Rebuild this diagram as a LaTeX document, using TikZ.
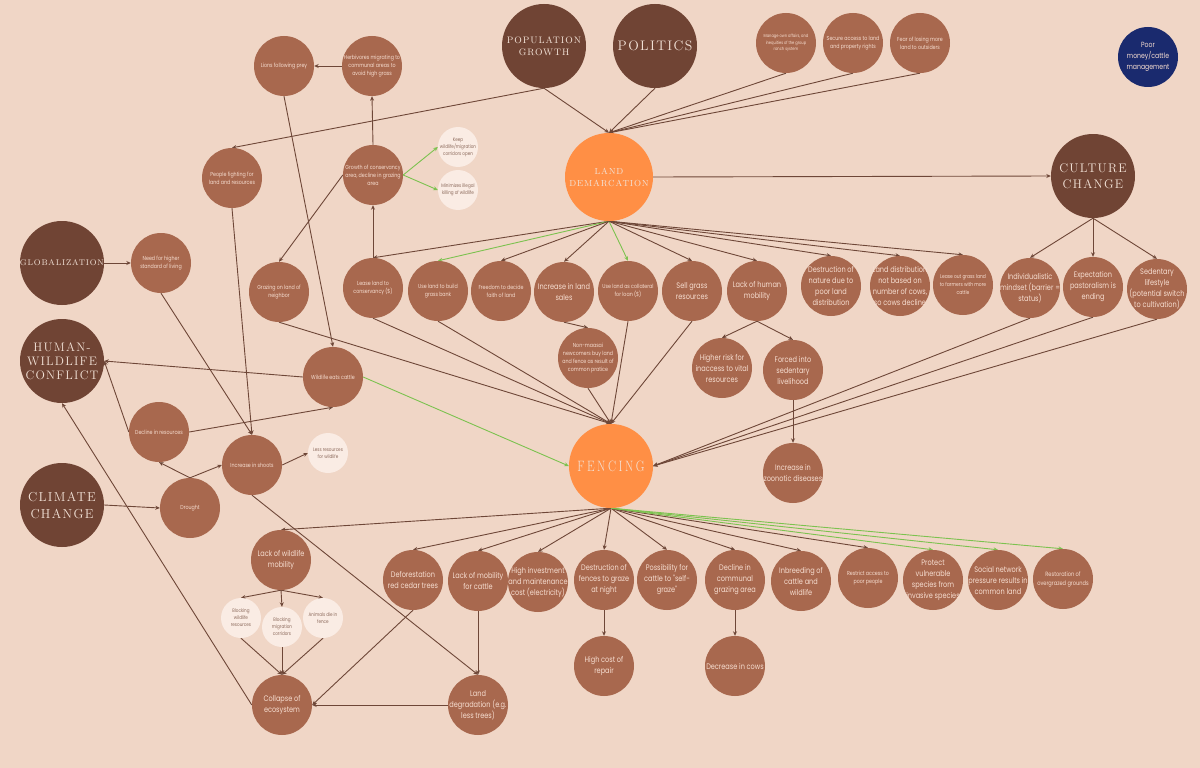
\documentclass[tikz,border=0pt]{standalone}
\usepackage{fontspec}
\newfontfamily\bodyfont[FakeStretch=0.82]{Poppins}
\newfontfamily\titlefont[LetterSpace=10]{Latin Modern Roman}
\newfontfamily\fencefont[LetterSpace=17,FakeStretch=0.8]{Latin Modern Roman}
\usetikzlibrary{arrows.meta,backgrounds}
\definecolor{bgc}{HTML}{F0D6C6}
\definecolor{midbrown}{HTML}{A8684E}
\definecolor{darkbrown}{HTML}{704434}
\definecolor{orangec}{HTML}{FF8F45}
\definecolor{creamc}{HTML}{FAECE4}
\definecolor{navyc}{HTML}{1A2A6E}
\definecolor{lighttext}{HTML}{F6DDD0}
\definecolor{creamtext}{HTML}{8C6A5C}
\definecolor{titletext}{HTML}{F3E3D8}
\definecolor{edgec}{HTML}{6E4738}
\definecolor{greenc}{HTML}{7CC24F}
\newcommand\mySmallF{\bodyfont\fontsize{5.8}{8}\selectfont}
\newcommand\myTinyF{\bodyfont\fontsize{4.4}{6.6}\selectfont}
\newcommand\myLargeF{\bodyfont\fontsize{8}{11}\selectfont}
\newcommand\myCreamF{\bodyfont\fontsize{5}{7}\selectfont}
\newcommand\myTitle[2]{\titlefont\fontsize{#1}{#2}\selectfont}
\tikzset{
  brn/.style={circle, fill=midbrown, minimum size=60pt, inner sep=-20pt, align=center, text=lighttext, font=\mySmallF},
  brnL/.style={brn, font=\myLargeF},
  crm/.style={circle, fill=creamc, minimum size=40pt, inner sep=-20pt, align=center, text=creamtext, font=\myCreamF},
  ttl/.style={circle, fill=darkbrown, minimum size=84pt, inner sep=-20pt, align=center, text=titletext},
  org/.style={ttl, fill=orangec},
  ed/.style={draw=edgec, line width=0.9pt, -{Stealth[length=4.5pt,width=4pt]}},
  eg/.style={ed, draw=greenc}
}
\begin{document}
\begin{tikzpicture}[x=1pt,y=-1pt]
\useasboundingbox (0,0) rectangle (1200,768);
% top
\node[ttl, font=\myTitle{9.4}{12}] (pop) at (544,46) {POPULATION\\GROWTH};
\node[ttl, font=\myTitle{13.8}{16}] (pol) at (655,46) {POLITICS};
\node[brn, font=\myTinyF] (manage) at (786,43) {Manage own affairs, and\\inequities of the group\\ranch system};
\node[brn] (secure) at (853,43) {Secure access to land\\and property rights};
\node[brn] (fear) at (920,43) {Fear of losing more\\land to outsiders};
\node[brnL, fill=navyc, font=\bodyfont\fontsize{7.5}{11}\selectfont] (poor) at (1148,57) {Poor\\money/cattle\\management};
\node[brn] (lions) at (284,66) {Lions following prey};
\node[brn] (herb) at (372,66) {Herbivores migrating to\\communal areas to\\avoid high grass};
\node[brn] (people) at (232,178) {People fighting for\\land and resources};
\node[brn] (growth) at (373,175) {Growth of conservancy\\area, decline in grazing\\area};
\node[crm] (keep) at (458,147) {Keep\\wildlife/migration\\corridors open};
\node[crm] (minim) at (458,190) {Minimizes illegal\\killing of wildlife};
\node[org, minimum size=88pt, font=\myTitle{8.8}{12}] (ld) at (609,177) {LAND\\DEMARCATION};
\node[ttl, font=\myTitle{12.5}{16}] (cc) at (1093,176) {CULTURE\\CHANGE};
% row 2
\node[ttl, font=\myTitle{8.2}{10}] (glob) at (62,263) {GLOBALIZATION};
\node[brn] (need) at (161,263) {Need for higher\\standard of living};
\node[brn] (grazing) at (279,292) {Grazing on land of\\neighbor};
\node[brn] (lease) at (373,288) {Lease land to\\conservancy (\$)};
\node[brn] (bank) at (438,291) {Use land to build\\grass bank};
\node[brn] (freedom) at (501,291) {Freedom to decide\\faith of land};
\node[brnL] (sales) at (564,292) {Increase in land\\sales};
\node[brn] (collat) at (628,291) {Use land as collateral\\for loan (\$)};
\node[brnL] (sell) at (692,291) {Sell grass\\resources};
\node[brnL] (lhm) at (757,291) {Lack of human\\mobility};
\node[brnL] (destn) at (831,286) {Destruction of\\nature due to\\poor land\\distribution};
\node[brnL] (landdist) at (900,286) {Land distribution\\not based on\\number of cows,\\so cows decline};
\node[brn, font=\bodyfont\fontsize{5.4}{8}\selectfont] (leaseout) at (963,285) {Lease out grass land\\to farmers with more\\cattle};
\node[brnL] (indiv) at (1030,288) {Individualistic\\mindset (barrier =\\status)};
\node[brnL] (expect) at (1093,287) {Expectation\\pastoralism is\\ending};
\node[brnL] (sedent) at (1157,289) {Sedentary\\lifestyle\\(potential switch\\to cultivation)};
\node[brn] (nonm) at (588,358) {Non-maasai\\newcomers buy land\\and fence as result of\\common pratice};
\node[brnL] (higher) at (722,368) {Higher risk for\\inaccess to vital\\resources};
\node[brnL] (forced) at (793,370) {Forced into\\sedentary\\livelihood};
\node[brnL] (zoon) at (793,473) {Increase in\\zoonotic diseases};
% left middle
\node[ttl, font=\myTitle{12.3}{14}] (hwc) at (62,361) {HUMAN-\\WILDLIFE\\CONFLICT};
\node[brn] (wec) at (333,377) {Wildlife eats cattle};
\node[brn] (decl) at (159,432) {Decline in resources};
\node[brn] (shoots) at (252,465) {Increase in shoots};
\node[crm] (less) at (328,453) {Less resources\\for wildlife};
\node[ttl, font=\myTitle{13}{17}] (clim) at (62,505) {CLIMATE\\CHANGE};
\node[brn] (drought) at (190,508) {Drought};
\node[org, font=\fencefont\fontsize{15}{16}\selectfont] (fence) at (611,466) {FENCING};
% bottom
\node[brnL] (lwm) at (281,560) {Lack of wildlife\\mobility};
\node[crm] (bwr) at (241,618) {Blocking\\wildlife\\resources};
\node[crm] (bmc) at (282,627) {Blocking\\migration\\corridors};
\node[crm] (adf) at (323,618) {Animals die in\\fence};
\node[brnL] (coll) at (282,705) {Collapse of\\ecosystem};
\node[brnL] (defor) at (413,580) {Deforestation\\red cedar trees};
\node[brnL] (lmc) at (478,581) {Lack of mobility\\for cattle};
\node[brnL] (landdeg) at (478,705) {Land\\degradation (e.g.\\less trees)};
\node[brnL] (hinv) at (538,582) {High investment\\and maintenance\\cost (electricity)};
\node[brnL] (destf) at (604,580) {Destruction of\\fences to graze\\at night};
\node[brnL] (selfg) at (667,580) {Possibility for\\cattle to "self-\\graze"};
\node[brnL] (declc) at (735,580) {Decline in\\communal\\grazing area};
\node[brnL] (inbr) at (801,581) {Inbreeding of\\cattle and\\wildlife};
\node[brnL] (repair) at (604,666) {High cost of\\repair};
\node[brnL] (cows) at (735,666) {Decrease in cows};
\node[brn] (restrict) at (868,578) {Restrict access to\\poor people};
\node[brnL] (protect) at (933,580) {Protect\\vulnerable\\species from\\invasive species};
\node[brnL] (social) at (998,580) {Social network\\pressure results in\\common land};
\node[brn, font=\bodyfont\fontsize{6.2}{9}\selectfont] (restor) at (1063,579) {Restoration of\\overgrazed grounds};

\begin{pgfonlayer}{background}
\fill[bgc] (0,0) rectangle (1200,768);
% top cluster
\draw[ed] (herb.west) -- (lions.east);
\draw[ed] (growth.north) -- (herb.south);
\draw[eg] (growth.east) -- (keep.west);
\draw[eg] (growth.east) -- (minim.west);
\draw[ed] (lease.north) -- (growth.south);
\draw[ed] (growth.west) -- (grazing.north);
\draw[ed] (lions.south) -- (wec.north);
\draw[ed] (people.south) -- (shoots.north);
\draw[ed] (pop.south) -- (people.north);
\draw[ed] (pop.south) -- (ld.north);
\draw[ed] (pol.south) -- (ld.north);
\draw[ed] (manage.south) -- (ld.north);
\draw[ed] (secure.south) -- (ld.north);
\draw[ed] (fear.south) -- (ld.north);
\draw[ed] (ld.east) -- (cc.west);
\draw[ed] (cc.south) -- (indiv.north);
\draw[ed] (cc.south) -- (expect.north);
\draw[ed] (cc.south) -- (sedent.north);
% land demarcation children
\draw[ed] (ld.south) -- (lease.north);
\draw[eg] (ld.south) -- (bank.north);
\draw[ed] (ld.south) -- (freedom.north);
\draw[ed] (ld.south) -- (sales.north);
\draw[eg] (ld.south) -- (collat.north);
\draw[ed] (ld.south) -- (sell.north);
\draw[ed] (ld.south) -- (lhm.north);
\draw[ed] (ld.south) -- (destn.north);
\draw[ed] (ld.south) -- (landdist.north);
\draw[ed] (ld.south) -- (leaseout.north);
\draw[ed] (sales.south) -- (nonm.north);
\draw[ed] (lhm.south) -- (higher.north);
\draw[ed] (lhm.south) -- (forced.north);
\draw[ed] (forced.south) -- (zoon.north);
% into fencing
\draw[ed] (grazing.south) -- (fence.north);
\draw[ed] (lease.south) -- (fence.north);
\draw[ed] (bank.south) -- (fence.north);
\draw[ed] (nonm.south) -- (fence.north);
\draw[ed] (collat.south) -- (fence.north);
\draw[ed] (sell.south) -- (fence.north);
\draw[ed] (indiv.south) -- (fence.east);
\draw[ed] (expect.south) -- (fence.east);
\draw[ed] (sedent.south) -- (fence.east);
\draw[eg] (wec.east) -- (fence.west);
% fencing children
\draw[ed] (fence.south) -- (lwm.north);
\draw[ed] (fence.south) -- (defor.north);
\draw[ed] (fence.south) -- (lmc.north);
\draw[ed] (fence.south) -- (hinv.north);
\draw[ed] (fence.south) -- (destf.north);
\draw[ed] (fence.south) -- (selfg.north);
\draw[ed] (fence.south) -- (declc.north);
\draw[ed] (fence.south) -- (inbr.north);
\draw[ed] (fence.south) -- (restrict.north);
\draw[eg] (fence.south) -- (protect.north);
\draw[eg] (fence.south) -- (social.north);
\draw[eg] (fence.south) -- (restor.north);
\draw[ed] (destf.south) -- (repair.north);
\draw[ed] (declc.south) -- (cows.north);
% bottom left
\draw[ed] (lwm.south) -- (bwr.north);
\draw[ed] (lwm.south) -- (bmc.north);
\draw[ed] (lwm.south) -- (adf.north);
\draw[ed] (bwr.south) -- (coll.north);
\draw[ed] (bmc.south) -- (coll.north);
\draw[ed] (adf.south) -- (coll.north);
\draw[ed] (defor.south) -- (coll.east);
\draw[ed] (landdeg.west) -- (coll.east);
\draw[ed] (lmc.south) -- (landdeg.north);
\draw[ed] (shoots.south) -- (landdeg.north);
\draw[ed] (coll.west) -- (hwc.south);
% left middle
\draw[ed] (wec.west) -- (hwc.east);
\draw[ed] (decl.west) -- (hwc.east);
\draw[ed] (decl.east) -- (wec.south);
\draw[ed] (drought.north) -- (decl.south);
\draw[ed] (drought.north) -- (shoots.west);
\draw[ed] (shoots.east) -- (less.west);
\draw[ed] (clim.east) -- (drought.west);
\draw[ed] (glob.east) -- (need.west);
\draw[ed] (need.south) -- (shoots.north);
\end{pgfonlayer}
\end{tikzpicture}
\end{document}
